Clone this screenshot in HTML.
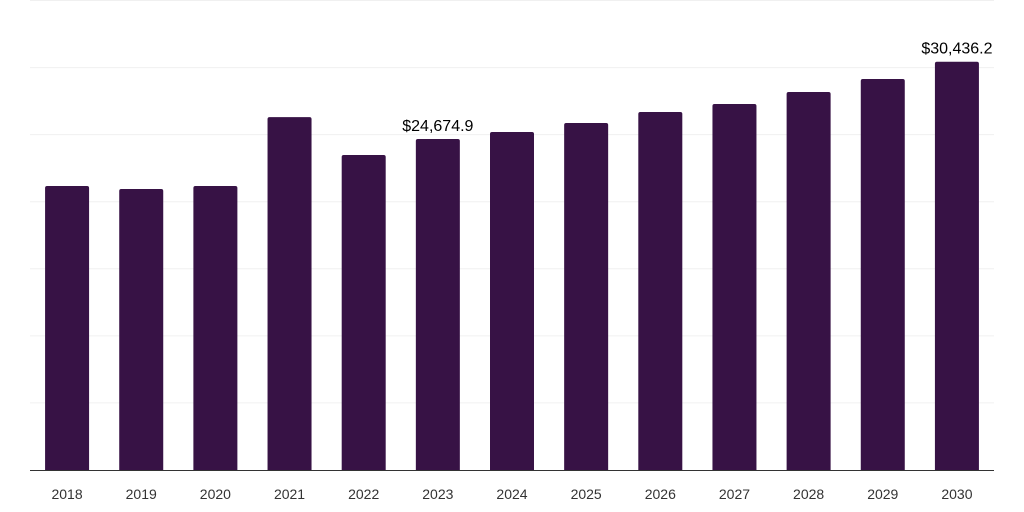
<!DOCTYPE html>
<html><head><meta charset="utf-8"><style>
body{margin:0;background:#fff;font-family:"Liberation Sans",sans-serif;}
svg{display:block}
</style></head><body>
<svg id="chart" width="1024" height="512"></svg>
<script>
const categories=["2018","2019","2020","2021","2022","2023","2024","2025","2026","2027","2028","2029","2030"];
const values=[21170,20950,21170,26310,23480,24674.9,25200,25870,26690,27280,28180,29150,30436.2];
const labels=["","","","","","$24,674.9","","","","","","","$30,436.2"];
const yTicks=[0,5000,10000,15000,20000,25000,30000,35000];
const NS="http://www.w3.org/2000/svg";
const svg=document.getElementById('chart');
const L=30,R=994,B=470,T=0.5,YMAX=35000;
const y=v=>B-(v/YMAX)*(B-T);
const band=(R-L)/categories.length;
const x=i=>L+band*i+band/2;
function mk(t,a){const e=document.createElementNS(NS,t);for(const k in a)e.setAttribute(k,a[k]);svg.appendChild(e);return e;}
yTicks.forEach((t,i)=>{if(t===0)return;const g=mk('line',{x1:L,x2:R,y1:y(t),y2:y(t),stroke:'#f0f0f0','stroke-width':1});

});
const bw=44;
categories.forEach((c,i)=>{
const top=y(values[i]);
const b=mk('path',{d:`M${x(i)-bw/2},${B} V${top+2} Q${x(i)-bw/2},${top} ${x(i)-bw/2+2},${top} H${x(i)+bw/2-2} Q${x(i)+bw/2},${top} ${x(i)+bw/2},${top+2} V${B} Z`,fill:'#371245'});


const t=mk('text',{x:x(i),y:499,'text-anchor':'middle','font-size':14,fill:'#333'});t.textContent=c;


if(labels[i]){const v=mk('text',{x:x(i),y:top-8,'text-anchor':'middle','font-size':16,fill:'#000'});v.textContent=labels[i];

}
});
const ax=mk('line',{x1:L,x2:R,y1:B+0.5,y2:B+0.5,stroke:'#333','stroke-width':1});


</script>
</body></html>
